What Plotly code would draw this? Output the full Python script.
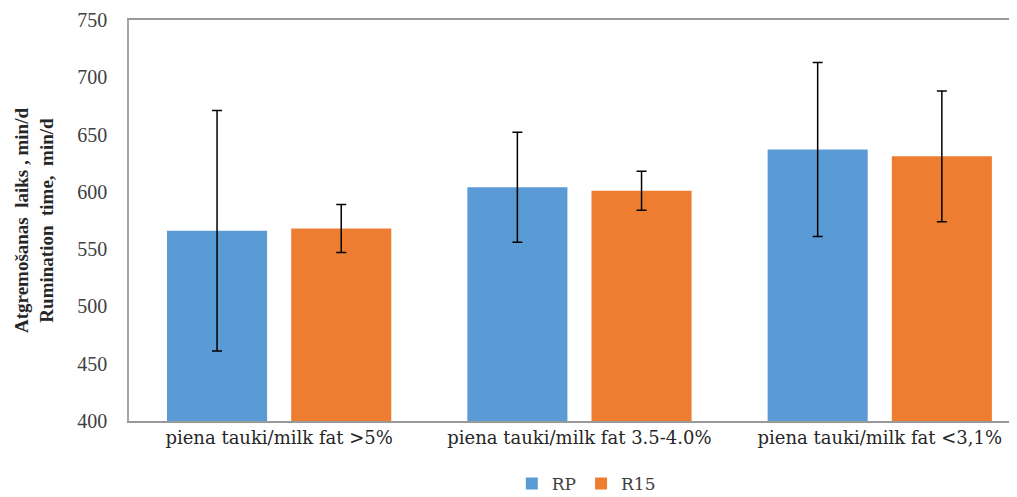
import plotly.graph_objects as go

categories = ["piena tauki/milk fat >5%", "piena tauki/milk fat 3.5-4.0%", "piena tauki/milk fat <3,1%"]
rp_values = [566, 604, 637]
rp_errors = [105, 48, 76]
r15_values = [568, 601, 631]
r15_errors = [21, 17, 57]

FONT = "Liberation Serif"
XFONT = "DejaVu Serif"

fig = go.Figure()
fig.add_trace(go.Bar(
    name="RP", x=categories, y=rp_values,
    marker=dict(color="#5B9BD5", line=dict(width=0)),
    error_y=dict(type="data", array=rp_errors, color="black", thickness=1.5, width=5),
))
fig.add_trace(go.Bar(
    name="R15", x=categories, y=r15_values,
    marker=dict(color="#ED7D31", line=dict(width=0)),
    error_y=dict(type="data", array=r15_errors, color="black", thickness=1.5, width=5),
))

# page body has an 8px margin, so the figure is offset by 8px right and down
fig.update_layout(
    width=1009, height=489,
    margin=dict(l=121, r=0, t=12, b=76, autoexpand=False),
    paper_bgcolor="white", plot_bgcolor="white",
    barmode="group", bargap=0.173, bargroupgap=0.194,
    font=dict(family=FONT, color="#404040", size=17),
    showlegend=True,
    legend=dict(orientation="h", x=0.515, xanchor="center", xref="paper",
                y=-0.112, yanchor="top", yref="paper",
                font=dict(family=XFONT, size=17, color="#404040"),
                itemwidth=30, traceorder="normal"),
    xaxis=dict(
        type="category", range=[-0.5, 2.457],
        showline=True, linecolor="#999999", linewidth=1.5, mirror=True,
        ticks="", showgrid=False,
        tickfont=dict(family=XFONT, size=18, color="#262626"),
    ),
    yaxis=dict(
        range=[400, 750], dtick=50, tick0=400,
        showline=True, linecolor="#a6a6a6", linewidth=1.5,
        ticks="", showgrid=False, zeroline=False,
        tickfont=dict(family=FONT, size=20, color="#404040"),
        ticklabelstandoff=16,
        title=dict(text="Atgremošanas  laiks , min/d<br>Rumination  time,  min/d",
                   font=dict(family=FONT, size=19, color="#262626", weight="bold"),
                   standoff=19),
    ),
)

fig.write_html("out.html")
